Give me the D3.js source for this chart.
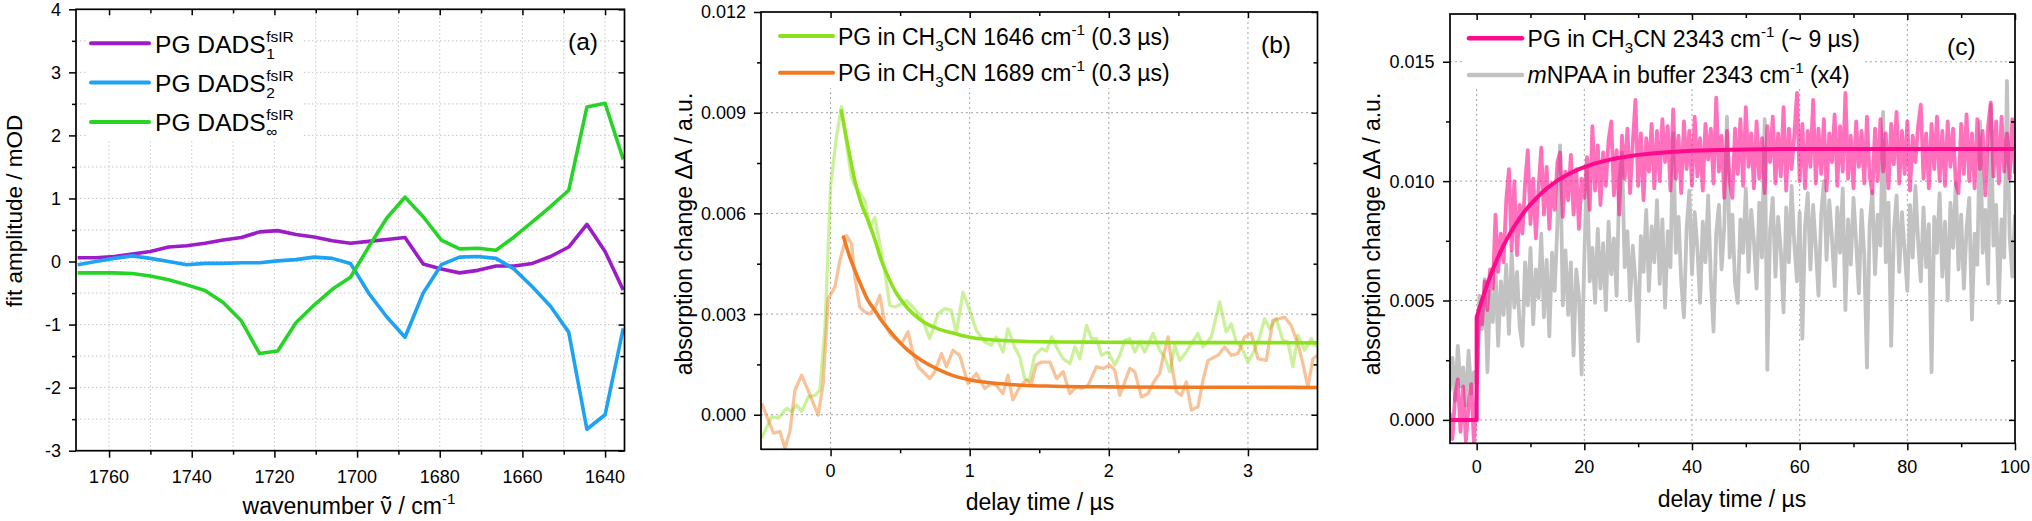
<!DOCTYPE html>
<html><head><meta charset="utf-8">
<script src="https://cdn.jsdelivr.net/npm/d3@7/dist/d3.min.js"></script>
<style>
html,body{margin:0;padding:0;background:#fff;}
svg{display:block;font-family:"Liberation Sans",Arial,Helvetica,sans-serif;}
</style></head><body>
<script>
// ---------------- DATA ----------------
// Panel (a): decay-associated difference spectra
const aWavenumber = [1767.6,1763.2,1758.8,1754.4,1750.0,1745.6,1741.2,1736.8,1732.4,1728.0,1723.6,1719.2,1714.8,1710.4,1706.0,1701.6,1697.2,1692.8,1688.4,1684.0,1679.6,1675.2,1670.8,1666.4,1662.0,1657.6,1653.2,1648.8,1644.4,1640.0,1635.6];
const aDads1   = [0.06,0.06,0.08,0.12,0.16,0.23,0.25,0.29,0.34,0.38,0.47,0.49,0.43,0.39,0.33,0.29,0.32,0.35,0.38,-0.04,-0.12,-0.18,-0.14,-0.07,-0.07,-0.03,0.08,0.23,0.59,0.16,-0.45];
const aDads2   = [-0.05,0.00,0.05,0.09,0.05,0.00,-0.05,-0.03,-0.03,-0.02,-0.02,0.01,0.03,0.07,0.05,-0.03,-0.50,-0.88,-1.20,-0.50,-0.05,0.07,0.08,0.05,-0.12,-0.40,-0.71,-1.12,-2.66,-2.43,-1.06];
const aDadsInf = [-0.18,-0.18,-0.18,-0.19,-0.23,-0.29,-0.37,-0.46,-0.65,-0.94,-1.46,-1.42,-0.97,-0.69,-0.44,-0.25,0.23,0.69,1.02,0.71,0.34,0.20,0.21,0.18,0.39,0.63,0.87,1.13,2.45,2.51,1.62];
const aXTicks = [1760,1740,1720,1700,1680,1660,1640];
const aXMinor = [1750,1730,1710,1690,1670,1650];
const aYTicks = [-3,-2,-1,0,1,2,3,4];
const aYMinor = [-2.5,-1.5,-0.5,0.5,1.5,2.5,3.5];

// Panel (b): 1646 / 1689 cm-1 kinetics
const bGreenT = [-0.495,-0.424,-0.376,-0.316,-0.28,-0.244,-0.208,-0.16,-0.11,-0.077,-0.04,0.0,0.043,0.079,0.12,0.15,0.175,0.21,0.246,0.282,0.318,0.354,0.39,0.426,0.462,0.51,0.545,0.593,0.653,0.713,0.773,0.82,0.868,0.904,0.952,1.0,1.048,1.108,1.156,1.19,1.24,1.275,1.323,1.36,1.395,1.43,1.467,1.517,1.553,1.589,1.636,1.672,1.72,1.756,1.792,1.84,1.876,1.911,1.947,1.995,2.043,2.079,2.115,2.151,2.187,2.222,2.258,2.318,2.366,2.402,2.438,2.474,2.509,2.557,2.593,2.641,2.677,2.737,2.797,2.844,2.88,2.916,2.952,3.0,3.048,3.084,3.12,3.156,3.203,3.251,3.287,3.323,3.359,3.407,3.455,3.49];
const bGreenV = [-0.0007,-0.00006,-0.0001,0.00019,0.0001,0.00029,0.0001,0.00053,0.00058,0.00073,0.0026,0.0068,0.0083,0.00918,0.0079,0.00707,0.00682,0.00662,0.00638,0.00558,0.00588,0.00509,0.00425,0.00326,0.00321,0.00331,0.0034,0.00321,0.00291,0.00227,0.00301,0.00316,0.00311,0.00242,0.00365,0.00311,0.00251,0.00217,0.00207,0.00232,0.00187,0.00256,0.00202,0.00172,0.00108,0.00103,0.00177,0.00197,0.0019,0.00232,0.00192,0.00167,0.00152,0.00202,0.00167,0.00266,0.00227,0.00227,0.00177,0.00187,0.00148,0.00177,0.00222,0.00227,0.00187,0.00217,0.00187,0.00242,0.00192,0.00172,0.00128,0.00207,0.00162,0.00187,0.00212,0.00242,0.00202,0.00232,0.00336,0.00247,0.00271,0.00217,0.00202,0.00157,0.00192,0.00232,0.00286,0.00256,0.00286,0.00222,0.00217,0.00143,0.00237,0.00192,0.00227,0.00202];
const bOrangeT = [-0.495,-0.447,-0.41,-0.364,-0.328,-0.292,-0.256,-0.208,-0.172,-0.124,-0.089,-0.053,-0.017,0.031,0.067,0.115,0.151,0.175,0.21,0.246,0.282,0.318,0.354,0.39,0.426,0.462,0.51,0.557,0.593,0.629,0.665,0.713,0.749,0.797,0.833,0.88,0.928,0.988,1.048,1.108,1.156,1.19,1.24,1.275,1.31,1.36,1.407,1.443,1.478,1.517,1.577,1.624,1.672,1.72,1.768,1.804,1.852,1.911,1.959,2.007,2.043,2.079,2.151,2.187,2.234,2.282,2.33,2.366,2.39,2.426,2.462,2.486,2.522,2.557,2.593,2.641,2.677,2.713,2.785,2.833,2.88,2.928,2.976,3.024,3.072,3.132,3.179,3.263,3.311,3.359,3.395,3.431,3.467,3.498];
const bOrangeV = [0.00034,-0.00016,-0.00055,-0.0005,-0.001,-0.0005,0.00073,0.00118,0.00083,0.00034,-0.00001,0.00093,0.00346,0.0038,0.0046,0.00534,0.00509,0.0041,0.00321,0.00306,0.00301,0.00316,0.00356,0.00271,0.00242,0.00227,0.00212,0.00247,0.00182,0.00143,0.00128,0.00108,0.00128,0.00182,0.00143,0.00192,0.00177,0.00093,0.00123,0.00078,0.00093,0.00088,0.00063,0.00118,0.00044,0.00083,0.00103,0.00093,0.00148,0.00157,0.00157,0.00108,0.00128,0.00063,0.00083,0.00078,0.00088,0.00143,0.00138,0.00148,0.00133,0.00058,0.00138,0.00128,0.00053,0.00063,0.00103,0.00123,0.00172,0.00232,0.00123,0.00068,0.00058,0.00098,0.00014,0.00024,0.00103,0.00162,0.00177,0.00202,0.00177,0.00182,0.00232,0.00242,0.00167,0.00162,0.00281,0.00291,0.00266,0.00212,0.00152,0.00083,0.00167,0.00177];
const bGreenFitT = [0.075,0.125,0.175,0.22,0.27,0.32,0.366,0.415,0.462,0.51,0.557,0.653,0.773,0.892,1.012,1.132,1.37,1.6,2.0,2.5,3.0,3.5];
const bGreenFitV = [0.0091,0.0080,0.00697,0.0063,0.00578,0.0052,0.00459,0.0041,0.0037,0.0034,0.00316,0.00281,0.00256,0.00242,0.0023,0.00224,0.00219,0.00217,0.00216,0.00215,0.00215,0.00214];
const bOrangeFitT = [0.09,0.13,0.175,0.22,0.27,0.32,0.366,0.415,0.462,0.51,0.557,0.653,0.773,0.892,1.012,1.132,1.37,1.6,2.0,2.5,3.0,3.5];
const bOrangeFitV = [0.00534,0.0048,0.0043,0.00385,0.0034,0.0031,0.00281,0.00255,0.00232,0.0021,0.00192,0.00162,0.00135,0.00115,0.00103,0.00096,0.00088,0.00085,0.00083,0.00082,0.00082,0.00081];
const bXTicks = [0,1,2,3];
const bXMinor = [0.5,1.5,2.5];
const bYTicks = [0,0.003,0.006,0.009,0.012];
const bYMinor = [0.0015,0.0045,0.0075,0.0105];

// Panel (c): 2343 cm-1 kinetics, samples every 0.5 us from -5 us
const cTimeStart = -5, cTimeStep = 0.5;
const cPink = [
0.0003,-0.0008,0.0010,0.0017,-0.0005,0.0014,-0.0009,0.0006,0.0015,-0.0010,
0.0012,0.0045,0.0040,0.0058,0.0046,0.0063,0.0055,0.0086,0.0062,0.0078,
0.0066,0.0092,0.0105,0.0071,0.0100,0.0069,0.0090,0.0078,0.0099,0.0113,
0.0082,0.0101,0.0076,0.0097,0.0114,0.0086,0.0106,0.0080,0.0099,0.0088,
0.0108,0.0112,0.0085,0.0104,0.0092,0.0111,0.0086,0.0105,0.0080,0.0101,
0.0093,0.0110,0.0088,0.0123,0.0096,0.0115,0.0090,0.0112,0.0098,0.0117,
0.0125,0.0094,0.0113,0.0086,0.0119,0.0101,0.0122,0.0095,0.0116,0.0134,
0.0098,0.0120,0.0092,0.0118,0.0104,0.0124,0.0097,0.0121,0.0100,0.0126,
0.0108,0.0123,0.0096,0.0130,0.0101,0.0119,0.0095,0.0125,0.0105,0.0121,
0.0098,0.0127,0.0102,0.0118,0.0096,0.0124,0.0109,0.0122,0.0099,0.0135,
0.0104,0.0119,0.0093,0.0121,0.0100,0.0093,0.0122,0.0103,0.0126,0.0098,
0.0131,0.0106,0.0120,0.0097,0.0125,0.0101,0.0118,0.0095,0.0123,0.0108,
0.0127,0.0099,0.0120,0.0102,0.0131,0.0096,0.0122,0.0105,0.0119,0.0137,
0.0100,0.0124,0.0097,0.0121,0.0106,0.0134,0.0099,0.0122,0.0103,0.0126,
0.0096,0.0120,0.0108,0.0128,0.0098,0.0123,0.0104,0.0137,0.0101,0.0119,
0.0097,0.0125,0.0106,0.0121,0.0099,0.0127,0.0102,0.0095,0.0122,0.0100,
0.0126,0.0104,0.0120,0.0097,0.0124,0.0107,0.0129,0.0099,0.0121,0.0103,
0.0125,0.0096,0.0119,0.0108,0.0123,0.0132,0.0101,0.0120,0.0097,0.0124,
0.0105,0.0127,0.0100,0.0121,0.0098,0.0125,0.0106,0.0122,0.0099,0.0095,
0.0124,0.0103,0.0128,0.0100,0.0120,0.0097,0.0126,0.0105,0.0121,0.0094,
0.0123,0.0133,0.0102,0.0125,0.0099,0.0127,0.0104,0.0120,0.0101,0.0126,
0.0103];
const cGray = [
0.0012,0.0026,0.0008,0.0031,0.0014,0.0022,0.0006,0.0029,0.0011,0.0020,
0.0015,0.0052,0.0038,0.0059,0.0020,0.0054,0.0041,0.0063,0.0031,0.0058,
0.0044,0.0065,0.0036,0.0070,0.0047,0.0062,0.0039,0.0031,0.0066,0.0048,
0.0072,0.0040,0.0063,0.0051,0.0078,0.0043,0.0067,0.0035,0.0070,0.0054,
0.0082,0.0115,0.0048,0.0071,0.0044,0.0066,0.0027,0.0063,0.0052,0.0019,
0.0068,0.0106,0.0058,0.0072,0.0049,0.0080,0.0055,0.0074,0.0046,0.0083,
0.0061,0.0076,0.0052,0.0100,0.0112,0.0064,0.0079,0.0050,0.0073,0.0058,
0.0033,0.0077,0.0062,0.0088,0.0054,0.0081,0.0066,0.0092,0.0057,0.0084,
0.0047,0.0079,0.0064,0.0120,0.0070,0.0085,0.0058,0.0043,0.0080,0.0096,
0.0061,0.0087,0.0072,0.0049,0.0083,0.0066,0.0094,0.0059,0.0037,0.0078,
0.0090,0.0063,0.0081,0.0127,0.0068,0.0086,0.0057,0.0049,0.0084,0.0070,
0.0097,0.0062,0.0088,0.0075,0.0055,0.0091,0.0068,0.0126,0.0021,0.0079,
0.0093,0.0060,0.0085,0.0071,0.0045,0.0089,0.0066,0.0098,0.0074,0.0058,
0.0087,0.0034,0.0081,0.0095,0.0063,0.0090,0.0072,0.0052,0.0086,0.0100,
0.0067,0.0092,0.0076,0.0056,0.0089,0.0070,0.0097,0.0046,0.0084,0.0065,
0.0093,0.0074,0.0053,0.0088,0.0069,0.0022,0.0082,0.0096,0.0061,0.0086,
0.0073,0.0129,0.0066,0.0091,0.0031,0.0079,0.0094,0.0062,0.0087,0.0071,
0.0054,0.0090,0.0068,0.0098,0.0075,0.0058,0.0089,0.0064,0.0082,0.0020,
0.0085,0.0070,0.0095,0.0060,0.0083,0.0050,0.0091,0.0072,0.0099,0.0063,
0.0086,0.0055,0.0080,0.0093,0.0042,0.0078,0.0065,0.0125,0.0070,0.0088,
0.0057,0.0132,0.0073,0.0090,0.0049,0.0084,0.0068,0.0142,0.0077,0.0060,
0.0086];
const cFitT = [-5,0,0,1,2,3,4,5,6,7,8,9,10,11,12,13,14,15,16,17,18,19,20,22,24,26,28,30,33,36,40,45,50,60,70,80,90,100];
const cFitV = [0,0,0.0043,0.00504,0.0057,0.0063,0.00683,0.00731,0.00773,0.00811,0.00845,0.00876,0.00903,0.00927,0.00949,0.00969,0.00986,0.01002,0.01016,0.01029,0.0104,0.0105,0.01059,0.01074,0.01086,0.01096,0.01103,0.0111,0.01117,0.01122,0.01127,0.0113,0.01133,0.01135,0.01135,0.01135,0.01135,0.01135];
const cXTicks = [0,20,40,60,80,100];
const cXMinor = [10,30,50,70,90];
const cYTicks = [0,0.005,0.010,0.015];
const cYMinor = [0.0025,0.0075,0.0125];

// ---------------- DRAWING ----------------
const W = 2032, H = 521;
const FONT_TICK = 18, FONT_TITLE = 23, FONT_LEG = 23;
const svg = d3.select('body').append('svg').attr('width', W).attr('height', H).attr('viewBox', `0 0 ${W} ${H}`);
svg.append('rect').attr('width', W).attr('height', H).attr('fill', '#fff');
const defs = svg.append('defs');

function makePanel(c) {
  const x = d3.scaleLinear().domain(c.xDomain).range([c.left, c.right]);
  const y = d3.scaleLinear().domain(c.yDomain).range([c.bottom, c.top]);
  const g = svg.append('g');
  defs.append('clipPath').attr('id', 'clip-' + c.name).append('rect')
    .attr('x', c.left).attr('y', c.top).attr('width', c.right - c.left).attr('height', c.bottom - c.top);
  const grid = g.append('g').attr('stroke', c.gridColor).attr('stroke-width', 1).attr('stroke-dasharray', c.gridDash).attr('fill', 'none');
  c.xGrid.forEach(v => grid.append('line').attr('x1', x(v)).attr('x2', x(v)).attr('y1', c.top).attr('y2', c.bottom));
  c.yGrid.forEach(v => grid.append('line').attr('y1', y(v)).attr('y2', y(v)).attr('x1', c.left).attr('x2', c.right));
  const data = g.append('g').attr('clip-path', `url(#clip-${c.name})`);
  const over = g.append('g');
  return { c, x, y, g, data, over };
}

function drawAxes(p) {
  const { c, x, y, over } = p;
  const ax = over.append('g');
  const put = (axis, tx, ty) => {
    const a = ax.append('g').attr('transform', `translate(${tx},${ty})`).call(axis);
    a.select('.domain').remove();
    a.selectAll('text').remove();
    a.selectAll('line').attr('stroke', '#000').attr('stroke-width', 1.5);
  };
  put(d3.axisBottom(x).tickValues(c.xTicks).tickSize(7).tickSizeOuter(0), 0, c.bottom);
  put(d3.axisBottom(x).tickValues(c.xMinor).tickSize(4).tickSizeOuter(0), 0, c.bottom);
  put(d3.axisTop(x).tickValues(c.xTicks).tickSize(-6).tickSizeOuter(0), 0, c.top);
  put(d3.axisTop(x).tickValues(c.xMinor).tickSize(-4).tickSizeOuter(0), 0, c.top);
  put(d3.axisLeft(y).tickValues(c.yTicks).tickSize(7).tickSizeOuter(0), c.left, 0);
  put(d3.axisLeft(y).tickValues(c.yMinor).tickSize(4).tickSizeOuter(0), c.left, 0);
  put(d3.axisRight(y).tickValues(c.yTicks).tickSize(-6).tickSizeOuter(0), c.right, 0);
  put(d3.axisRight(y).tickValues(c.yMinor).tickSize(-4).tickSizeOuter(0), c.right, 0);
  ax.append('rect').attr('x', c.left).attr('y', c.top).attr('width', c.right - c.left).attr('height', c.bottom - c.top)
    .attr('fill', 'none').attr('stroke', '#000').attr('stroke-width', 1.7);
  ax.selectAll(null).data(c.xTicks).enter().append('text')
    .attr('x', d => x(d)).attr('y', c.xLabelBase).attr('text-anchor', 'middle')
    .attr('font-size', FONT_TICK).text(c.xFmt);
  ax.selectAll(null).data(c.yTicks).enter().append('text')
    .attr('x', c.yLabelRight).attr('y', d => y(d)).attr('dy', '0.36em').attr('text-anchor', 'end')
    .attr('font-size', FONT_TICK).text(c.yFmt);
}

// rich text: parts = [[text, kind]] kind: n | sub | sup | it
function rich(parent, x, y, size, parts, anchor, rotate) {
  const t = parent.append('text').attr('x', x).attr('y', y).attr('font-size', size).attr('fill', '#000');
  if (anchor) t.attr('text-anchor', anchor);
  if (rotate) t.attr('transform', `rotate(${rotate},${x},${y})`);
  let shift = 0;
  parts.forEach(([s, k]) => {
    let target = 0, fs = size, style = 'normal';
    if (k === 'sub') { target = size * 0.26; fs = size * 0.66; }
    if (k === 'sup') { target = -size * 0.42; fs = size * 0.66; }
    if (k === 'it') style = 'italic';
    t.append('tspan').attr('dy', target - shift).attr('font-size', fs).attr('font-style', style).text(s);
    shift = target;
  });
  return t;
}

const pathOf = (p, xs, ys, curve) => d3.line().x((d, i) => p.x(xs[i])).y((d, i) => p.y(ys[i])).curve(curve || d3.curveLinear)(xs);
function legendBox(p, x0, y0, x1, y1) {
  p.over.append('rect').attr('x', x0).attr('y', y0).attr('width', x1 - x0).attr('height', y1 - y0).attr('fill', '#fff');
}
function legendLine(p, x0, x1, yy, col, w) {
  p.over.append('line').attr('x1', x0).attr('x2', x1).attr('y1', yy).attr('y2', yy)
    .attr('stroke', col).attr('stroke-width', w).attr('stroke-linecap', 'round');
}

// ===== Panel (a) =====
const colA = ['#9c1dc8', '#1ea2f2', '#26d426'];
const pa = makePanel({
  name: 'a', left: 76, right: 624.5, top: 9.3, bottom: 450.7,
  xDomain: [1768, 1635.3], yDomain: [-3, 4],
  xGrid: aXTicks.concat(aXMinor), yGrid: aYTicks.concat(aYMinor).filter(v => v > -3 && v < 4),
  gridColor: '#c6c6ce', gridDash: '1.5,2.5',
  xTicks: aXTicks, xMinor: aXMinor, yTicks: aYTicks, yMinor: aYMinor,
  xLabelBase: 482.5, yLabelRight: 61, xFmt: d => d, yFmt: d => (d < 0 ? '-' + Math.abs(d) : d)
});
[aDads1, aDads2, aDadsInf].forEach((vals, i) => {
  pa.data.append('path').attr('d', pathOf(pa, aWavenumber, vals)).attr('fill', 'none')
    .attr('stroke', colA[i]).attr('stroke-width', 3.6).attr('stroke-linejoin', 'round');
});
legendBox(pa, 86, 18, 304, 141);
drawAxes(pa);
['1', '2', '\u221E'].forEach((sub, i) => {
  const base = 52.5 + i * 39.4;
  legendLine(pa, 91, 149, base - 9.3, colA[i], 4);
  const t = pa.over.append('text').attr('x', 155).attr('y', base).attr('font-size', 24.6).text('PG DADS');
  const w = t.node().getComputedTextLength();
  pa.over.append('text').attr('x', 155 + w + 0.5).attr('y', base - 11).attr('font-size', 15.5).text('fsIR');
  pa.over.append('text').attr('x', 155 + w + 0.5).attr('y', base + 6).attr('font-size', 15.5).text(sub);
});
pa.over.append('text').attr('x', 568).attr('y', 50).attr('font-size', 24.5).text('(a)');
{
  const xt = rich(pa.over, 349, 514, FONT_TITLE, [['wavenumber ', 'n'], ['\u03BD', 'n'], [' / cm', 'n'], ['-1', 'sup']], 'middle');
  const ext = xt.node().getExtentOfChar(11);
  pa.over.append('text').attr('x', ext.x + ext.width / 2).attr('y', 514 - 1).attr('text-anchor', 'middle')
    .attr('font-size', FONT_TITLE).text('\u02DC');
}
rich(pa.over, 21.5, 211, 22.5, [['fit amplitude / mOD', 'n']], 'middle', -90);

// ===== Panel (b) =====
const colB = { g: '#8ce11e', o: '#f07a22' };
const pb = makePanel({
  name: 'b', left: 761, right: 1317.5, top: 12, bottom: 449.3,
  xDomain: [-0.5, 3.5], yDomain: [-0.00103, 0.012],
  xGrid: bXTicks, yGrid: [0, 0.003, 0.006, 0.009],
  gridColor: '#a4a4a4', gridDash: '2,3',
  xTicks: bXTicks, xMinor: bXMinor, yTicks: bYTicks, yMinor: bYMinor,
  xLabelBase: 477, yLabelRight: 746, xFmt: d => d, yFmt: d3.format('.3f')
});
pb.data.append('path').attr('d', pathOf(pb, bGreenT, bGreenV)).attr('fill', 'none')
  .attr('stroke', colB.g).attr('stroke-opacity', 0.45).attr('stroke-width', 3.3).attr('stroke-linejoin', 'round');
pb.data.append('path').attr('d', pathOf(pb, bOrangeT, bOrangeV)).attr('fill', 'none')
  .attr('stroke', colB.o).attr('stroke-opacity', 0.45).attr('stroke-width', 3.3).attr('stroke-linejoin', 'round');
pb.data.append('path').attr('d', pathOf(pb, bGreenFitT, bGreenFitV, d3.curveMonotoneX)).attr('fill', 'none')
  .attr('stroke', colB.g).attr('stroke-width', 3.6);
pb.data.append('path').attr('d', pathOf(pb, bOrangeFitT, bOrangeFitV, d3.curveMonotoneX)).attr('fill', 'none')
  .attr('stroke', colB.o).attr('stroke-width', 3.6);
legendBox(pb, 770, 16, 1180, 88);
drawAxes(pb);
legendLine(pb, 780, 833, 36, colB.g, 4);
legendLine(pb, 780, 833, 72.7, colB.o, 4);
rich(pb.over, 838, 45, FONT_LEG, [['PG in CH', 'n'], ['3', 'sub'], ['CN 1646 cm', 'n'], ['-1', 'sup'], [' (0.3 \u00B5s)', 'n']]);
rich(pb.over, 838, 80.7, FONT_LEG, [['PG in CH', 'n'], ['3', 'sub'], ['CN 1689 cm', 'n'], ['-1', 'sup'], [' (0.3 \u00B5s)', 'n']]);
pb.over.append('text').attr('x', 1261).attr('y', 53).attr('font-size', 24.5).text('(b)');
rich(pb.over, 1040, 510, FONT_TITLE, [['delay time / \u00B5s', 'n']], 'middle');
rich(pb.over, 692, 234, FONT_TITLE, [['absorption change \u0394A / a.u.', 'n']], 'middle', -90);

// ===== Panel (c) =====
const colC = { pink: '#ff0a8c', gray: '#c2c2c2' };
const cTimes = cPink.map((v, i) => cTimeStart + i * cTimeStep);
const pc = makePanel({
  name: 'c', left: 1450, right: 2015, top: 14, bottom: 443.3,
  xDomain: [-4.95, 100], yDomain: [-0.00098, 0.017],
  xGrid: [0, 20, 40, 60, 80], yGrid: [0, 0.005, 0.010, 0.015],
  gridColor: '#a4a4a4', gridDash: '2,3',
  xTicks: cXTicks, xMinor: cXMinor, yTicks: cYTicks, yMinor: cYMinor,
  xLabelBase: 473, yLabelRight: 1434.5, xFmt: d => d, yFmt: d3.format('.3f')
});
pc.data.append('path').attr('d', pathOf(pc, cTimes, cGray)).attr('fill', 'none')
  .attr('stroke', colC.gray).attr('stroke-width', 3.8).attr('stroke-linejoin', 'round');
pc.data.append('path').attr('d', pathOf(pc, cTimes, cPink)).attr('fill', 'none')
  .attr('stroke', colC.pink).attr('stroke-opacity', 0.58).attr('stroke-width', 3.8).attr('stroke-linejoin', 'round');
pc.data.append('path').attr('d', pathOf(pc, cFitT, cFitV)).attr('fill', 'none')
  .attr('stroke', colC.pink).attr('stroke-width', 4).attr('stroke-linejoin', 'round');
legendBox(pc, 1462, 18, 1864, 87);
drawAxes(pc);
legendLine(pc, 1469, 1522, 38.3, colC.pink, 4.5);
legendLine(pc, 1469, 1522, 75, colC.gray, 4.5);
rich(pc.over, 1527.6, 46.7, FONT_LEG, [['PG in CH', 'n'], ['3', 'sub'], ['CN 2343 cm', 'n'], ['-1', 'sup'], [' (~ 9 \u00B5s)', 'n']]);
rich(pc.over, 1527.6, 82.7, FONT_LEG, [['m', 'it'], ['NPAA in buffer 2343 cm', 'n'], ['-1', 'sup'], [' (x4)', 'n']]);
pc.over.append('text').attr('x', 1947).attr('y', 55).attr('font-size', 24.5).text('(c)');
rich(pc.over, 1732, 507, FONT_TITLE, [['delay time / \u00B5s', 'n']], 'middle');
rich(pc.over, 1380, 234, FONT_TITLE, [['absorption change \u0394A / a.u.', 'n']], 'middle', -90);
</script>
</body></html>
